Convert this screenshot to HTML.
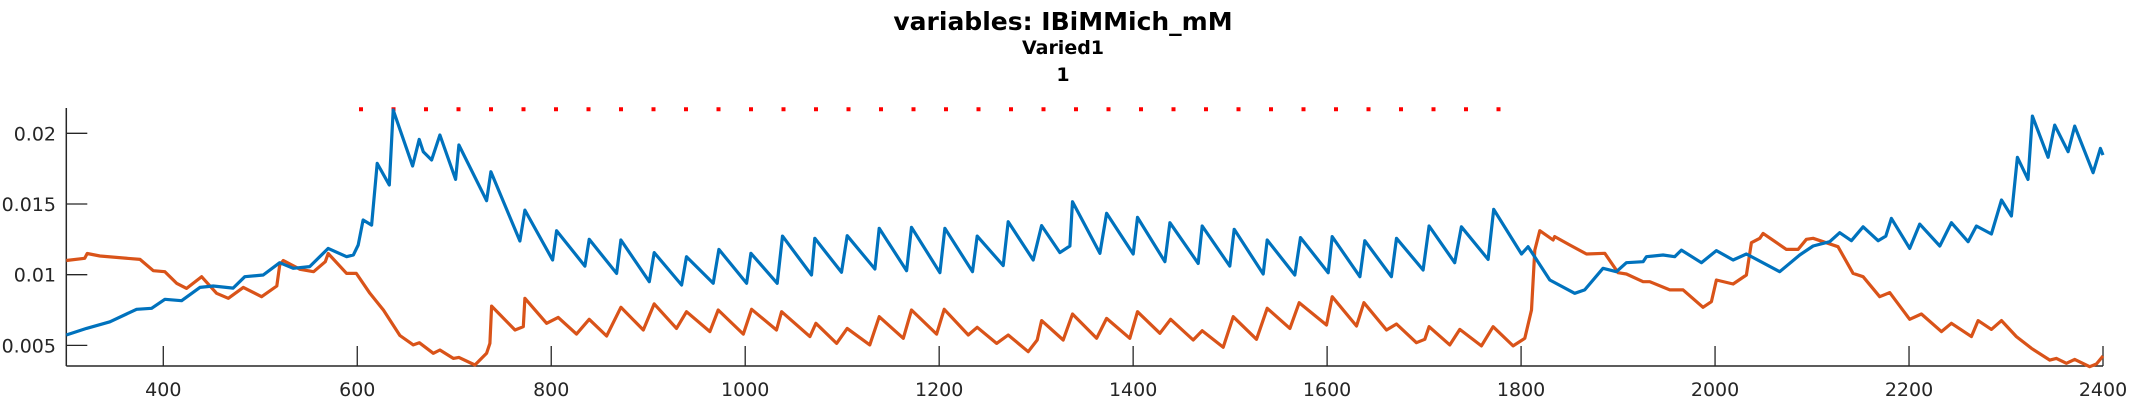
<!DOCTYPE html>
<html><head><meta charset="utf-8"><style>
html,body{margin:0;padding:0;background:#fff;}
svg{display:block;font-family:"DejaVu Sans","Liberation Sans",sans-serif;}
</style></head><body>
<svg id="chart" width="2133" height="400" viewBox="0 0 2133 400" xmlns="http://www.w3.org/2000/svg">
<text x="1063" y="30" text-anchor="middle" font-size="25" font-weight="bold" fill="#000">variables: IBiMMich_mM</text>
<text x="1063" y="54" text-anchor="middle" font-size="19" font-weight="bold" fill="#000">Varied1</text>
<text x="1063" y="81" text-anchor="middle" font-size="19" font-weight="bold" fill="#000">1</text>
<g id="axes"></g>
<g id="series"></g>
</svg>
<script>
const xTicks = [400,600,800,1000,1200,1400,1600,1800,2000,2200,2400];
const xTickLabels = ["400","600","800","1000","1200","1400","1600","1800","2000","2200","2400"];
const yTicks = [0.005,0.01,0.015,0.02];
const yTickLabels = ["0.005","0.01","0.015","0.02"];
const blueX = [300,320.8,345,372.5,388,401.7,418.9,437.8,451.5,472,484,503,520,534,551,570,589,596,601,606,614.8,620.6,633,637.1,657.1,663.9,668.1,676.7,685.2,701.4,704.8,733.4,737.8,767.7,772.9,801.4,805.5,834.7,839.2,867.4,871.8,901.1,906.2,934.4,939.5,967,972.9,1001.4,1005.9,1033,1038.5,1068.4,1071.8,1099.3,1105.2,1133.7,1138.2,1166.4,1171.5,1200.8,1205.9,1234.4,1239.2,1266,1271.2,1297,1305.6,1324.5,1334.8,1337.5,1365.7,1372.6,1400.1,1404.5,1432.7,1437.9,1467.1,1471.2,1499.7,1504.2,1534.1,1538.2,1566.7,1572.6,1601.1,1605.2,1633.8,1638.9,1666.3,1671.5,1699,1705.2,1731.6,1738.5,1766,1771.8,1800.4,1807.2,1829.6,1855.3,1865.6,1884.5,1898.3,1908.6,1925.8,1929.2,1946.4,1958.4,1965.3,1985.9,2001.4,2018.6,2032.3,2066.7,2087.3,2101.1,2118.2,2128.5,2140.6,2152.6,2168.1,2176,2181.8,2200.7,2211,2231.7,2243.7,2260.9,2269.5,2284.9,2295.3,2305.6,2311.7,2322.7,2327.2,2343.4,2350.2,2364,2370.8,2389.8,2397.3,2400];
const blueY = [0.00573,0.0062,0.00667,0.00755,0.00762,0.00826,0.00816,0.0091,0.0092,0.00905,0.00986,0.00998,0.01085,0.01045,0.01057,0.01186,0.01127,0.0114,0.0121,0.01387,0.01351,0.01787,0.01634,0.02165,0.01769,0.01957,0.0187,0.01811,0.01988,0.01674,0.01917,0.01523,0.01728,0.01238,0.01457,0.01104,0.01311,0.01061,0.0125,0.01009,0.01245,0.0095,0.01156,0.00927,0.01127,0.00939,0.01179,0.00939,0.01151,0.00939,0.01273,0.00998,0.01257,0.01017,0.01276,0.0104,0.01328,0.01028,0.01335,0.01014,0.01328,0.01021,0.01273,0.01064,0.01375,0.01104,0.01347,0.01156,0.01203,0.01516,0.01151,0.01434,0.01146,0.01405,0.01092,0.01368,0.0108,0.01344,0.01061,0.01321,0.01005,0.01245,0.00998,0.01262,0.01014,0.01269,0.00986,0.0124,0.00986,0.01257,0.01033,0.01344,0.01085,0.01339,0.01108,0.01462,0.01146,0.01198,0.00962,0.00868,0.00892,0.01045,0.01021,0.01085,0.01092,0.01127,0.01139,0.01127,0.01174,0.01085,0.0117,0.01104,0.01146,0.01021,0.01139,0.01203,0.01233,0.01297,0.0124,0.01339,0.0124,0.01273,0.01398,0.01186,0.01358,0.01203,0.01368,0.01233,0.01344,0.01288,0.01528,0.01415,0.0183,0.01674,0.02122,0.0183,0.02058,0.0187,0.02051,0.01721,0.01893,0.01846];
const orangeX = [300,319,321.6,334.7,376,389.7,401.7,413.7,424,439.5,455,467,482.5,501.4,517,520,523.7,541,555,567,570,589,599,613,627,637,644,657.8,664,678.4,685.2,699,704.8,721.3,733.4,736.8,738.5,762.6,771.2,772.9,795.2,807.2,826.1,839.2,857.1,871.8,894.9,906.2,929.2,939.5,963.6,972.2,998,1006.6,1032.3,1037.5,1066.7,1072.9,1094.2,1105.2,1128.5,1138.2,1163,1171.5,1197.3,1205.2,1230,1239.2,1259.2,1271.2,1291.8,1301.1,1305.6,1327.9,1337.5,1362.3,1372.6,1396.6,1404.5,1427.6,1438.6,1461.9,1471.2,1492.9,1503.2,1527.2,1538.2,1561.6,1571.2,1599.4,1605.2,1630.3,1637.9,1661.2,1671.5,1692.1,1700.7,1705.2,1726.5,1736.8,1759.1,1771.1,1791.8,1803.8,1810.7,1814.1,1819.3,1833,1834.7,1850.2,1867.4,1886.3,1900,1908.6,1925.8,1932.7,1953.3,1967,1987.6,1996.2,2001.4,2018.6,2032.3,2037.5,2046.1,2049.5,2073.6,2085.6,2094.2,2101.1,2126.8,2142.3,2152.6,2169.8,2180.1,2200.7,2212.8,2233.4,2243.7,2264.3,2271.2,2284.9,2295.3,2310.7,2326.2,2345.1,2352,2362.3,2370.8,2386.3,2393.2,2400];
const orangeY = [0.011,0.01116,0.0115,0.01132,0.01108,0.01028,0.01021,0.00939,0.00903,0.00986,0.00868,0.00833,0.0091,0.00844,0.0092,0.01068,0.011,0.01038,0.01021,0.01092,0.0115,0.01009,0.01009,0.00868,0.0075,0.00644,0.0057,0.00503,0.00519,0.00444,0.00467,0.00408,0.00415,0.00361,0.00444,0.00514,0.00778,0.00609,0.00632,0.00833,0.00656,0.00698,0.0058,0.00684,0.00566,0.00769,0.00609,0.00793,0.0062,0.00738,0.00597,0.0075,0.0058,0.00755,0.00609,0.00738,0.00562,0.00656,0.00514,0.0062,0.00503,0.00703,0.0055,0.0075,0.0058,0.00755,0.00573,0.00628,0.00514,0.00573,0.00455,0.00538,0.00675,0.00538,0.00722,0.0055,0.00691,0.0055,0.00738,0.00585,0.00684,0.00538,0.00604,0.00486,0.00703,0.00543,0.00762,0.0062,0.00802,0.00644,0.00844,0.00637,0.00802,0.00609,0.00651,0.00519,0.00543,0.00632,0.00503,0.00613,0.00496,0.00632,0.00496,0.0055,0.0075,0.01174,0.01311,0.01245,0.01269,0.0121,0.01146,0.01151,0.01014,0.01005,0.0095,0.0095,0.00892,0.00892,0.00769,0.00809,0.00962,0.00934,0.00998,0.01226,0.01257,0.01292,0.01179,0.01179,0.0125,0.01257,0.01198,0.01009,0.00986,0.00844,0.00873,0.00684,0.00722,0.00597,0.00656,0.00562,0.00675,0.00613,0.00675,0.00562,0.00479,0.00396,0.00408,0.00373,0.00401,0.00349,0.00368,0.00425];
const refX = [601.8,1801];
const refY = [0.0217,0.0217];

const NS = "http://www.w3.org/2000/svg";
const L = 66.3, R = 2103, T = 108, B = 366;
const X0 = 300, X1 = 2400, Y0 = 0.00354, Y1 = 0.02179;
function sx(v){ return L + (v - X0) * (R - L) / (X1 - X0); }
function sy(v){ return B - (v - Y0) * (B - T) / (Y1 - Y0); }
function mk(tag, attrs, parent){
  const e = document.createElementNS(NS, tag);
  for (const k in attrs) e.setAttribute(k, attrs[k]);
  parent.appendChild(e);
  return e;
}
const axes = document.getElementById("axes");
const series = document.getElementById("series");

const yAxis = mk("line", {x1:L, y1:T, x2:L, y2:B, stroke:"#262626", "stroke-width":1.5}, axes);


const xAxis = mk("line", {x1:L, y1:B, x2:R, y2:B, stroke:"#262626", "stroke-width":1.5}, axes);



xTicks.forEach((v, i) => {
  const t = mk("line", {x1:sx(v), y1:B, x2:sx(v), y2:B-20, stroke:"#262626", "stroke-width":1.3}, axes);
  
  
  const lb = mk("text", {x:sx(v), y:396, "text-anchor":"middle", "font-size":19, fill:"#262626"}, axes);
  lb.textContent = xTickLabels[i];
  
  
});
yTicks.forEach((v, i) => {
  const t = mk("line", {x1:L, y1:sy(v), x2:L+21, y2:sy(v), stroke:"#262626", "stroke-width":1.3}, axes);
  
  
  const lb = mk("text", {x:56, y:sy(v)+7, "text-anchor":"end", "font-size":19, fill:"#262626"}, axes);
  lb.textContent = yTickLabels[i];
  
  
});

function pts(xs, ys){ return xs.map((x, i) => sx(x).toFixed(1) + "," + sy(ys[i]).toFixed(1)).join(" "); }

const ref = mk("polyline", {points:pts(refX, refY), fill:"none", stroke:"#ff0000", "stroke-width":4, "stroke-dasharray":"4 28.5"}, series);



const orange = mk("polyline", {points:pts(orangeX, orangeY), fill:"none", stroke:"#D95319", "stroke-width":3.2, "stroke-linejoin":"round"}, series);



const blue = mk("polyline", {points:pts(blueX, blueY), fill:"none", stroke:"#0072BD", "stroke-width":3.2, "stroke-linejoin":"round"}, series);


</script>
</body></html>
